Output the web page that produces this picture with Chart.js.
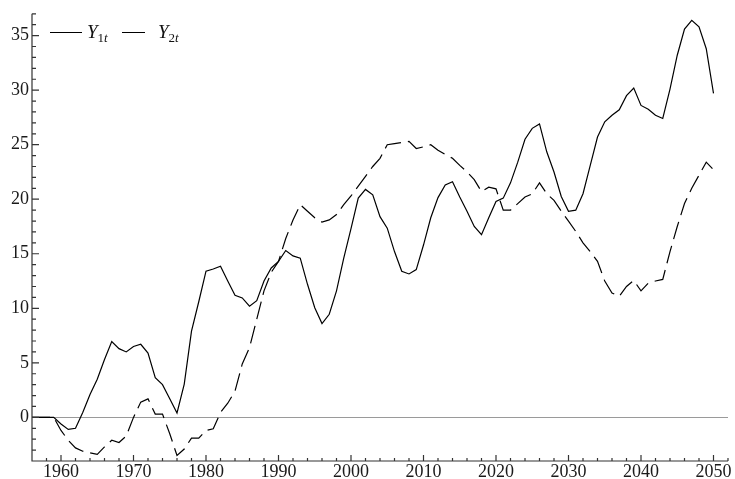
<!DOCTYPE html>
<html>
<head>
<meta charset="utf-8">
<script src="https://cdn.jsdelivr.net/npm/chart.js@4.4.1/dist/chart.umd.min.js"></script>
<style>
  html, body { margin: 0; padding: 0; background: #fff; }
  #wrap { position: relative; width: 735px; height: 479px; }
  .key-line { position: absolute; height: 0; border-top: 1.3px solid #000; }
  .key-text { position: absolute; font-family: 'Liberation Serif', serif; font-size: 19px; line-height: 19px; color: #111; white-space: nowrap; }
  .key-text sub { font-size: 13px; vertical-align: -4px; line-height: 0; }
</style>
</head>
<body>
<div id="wrap">
  <canvas id="grafik"></canvas>
  <div class="key-line" style="left:50px; top:32px; width:32px;"></div>
  <div class="key-text" style="left:87px; top:22px;"><i>Y</i><sub>1<i>t</i></sub></div>
  <div class="key-line" style="left:122px; top:32px; width:23px;"></div>
  <div class="key-text" style="left:158px; top:22px;"><i>Y</i><sub>2<i>t</i></sub></div>
</div>
<script>
const years = [];
for (let t = 1956; t <= 2050; t++) years.push(t);

const y1t = [
    0, 0, 0, 0, -0.6, -1.1, -1.0, 0.45, 2.1, 3.5,
    5.3, 6.95, 6.3, 6.0, 6.5, 6.7, 5.9, 3.65, 3.0, 1.7,
    0.4, 3.05, 7.9, 10.6, 13.4, 13.6, 13.85, 12.5, 11.2, 10.95,
    10.2, 10.7, 12.5, 13.7, 14.3, 15.3, 14.8, 14.6, 12.2, 10.05,
    8.6, 9.45, 11.6, 14.6, 17.3, 20.1, 20.9, 20.4, 18.4, 17.35,
    15.2, 13.4, 13.15, 13.55, 15.8, 18.3, 20.15, 21.3, 21.6, 20.2,
    18.9, 17.5, 16.75, 18.3, 19.8, 20.1, 21.5, 23.4, 25.5, 26.5,
    26.9, 24.35, 22.5, 20.25, 18.9, 19.0, 20.5, 23.1, 25.7, 27.1,
    27.7, 28.2, 29.5, 30.2, 28.6, 28.25, 27.7, 27.4, 30.1, 33.2,
    35.6, 36.4, 35.8, 33.8, 29.7
];

const y2t = [
    0, 0, 0, 0, -1.2, -2.1, -2.8, -3.1, -3.25, -3.4,
    -2.7, -2.1, -2.3, -1.7, 0.0, 1.4, 1.7, 0.3, 0.3, -1.5,
    -3.5, -2.9, -1.9, -1.9, -1.2, -1.05, 0.45, 1.3, 2.4, 4.9,
    6.4, 9.0, 11.6, 13.3, 14.3, 16.4, 18.1, 19.5, 18.9, 18.3,
    17.9, 18.1, 18.6, 19.5, 20.3, 21.2, 22.1, 23.0, 23.75, 25.0,
    25.1, 25.2, 25.3, 24.65, 24.8, 25.0, 24.5, 24.1, 23.75, 23.1,
    22.5, 21.8, 20.7, 21.1, 20.95, 19.0, 19.0, 19.6, 20.2, 20.5,
    21.5, 20.5, 19.9, 18.9, 18.0, 17.05, 16.0, 15.2, 14.3, 12.5,
    11.4, 11.1, 12.0, 12.55, 11.6, 12.3, 12.5, 12.65, 15.2, 17.5,
    19.6, 21.0, 22.2, 23.4, 22.7
];

const xMajor = 10, xMinor = 2;   // years
const yMajor = 5, yMinor = 1;

// frame + inward ticks + zero line, Mathematica style
const frameTicks = {
    id: 'frameTicks',
    beforeDatasetsDraw(chart) {
        const {ctx, chartArea: a, scales: {y}} = chart;
        const y0 = Math.round(y.getPixelForValue(0)) + 0.5;
        ctx.save();
        ctx.strokeStyle = '#9a9a9a';
        ctx.lineWidth = 1;
        ctx.beginPath();
        ctx.moveTo(a.left, y0);
        ctx.lineTo(a.right, y0);
        ctx.stroke();
        ctx.restore();
    },
    afterDraw(chart) {
        const {ctx, chartArea: a, scales: {x, y}} = chart;
        ctx.save();
        ctx.strokeStyle = '#333';
        ctx.lineWidth = 1.2;
        ctx.beginPath();
        ctx.moveTo(a.left, a.top);
        ctx.lineTo(a.left, a.bottom);
        ctx.lineTo(a.right, a.bottom);
        y.ticks.forEach(t => {
            const p = y.getPixelForValue(t.value);
            const len = t.value % yMajor === 0 ? 7 : 4;
            ctx.moveTo(a.left, p);
            ctx.lineTo(a.left + len, p);
        });
        x.ticks.forEach(t => {
            const p = x.getPixelForValue(t.value);
            const len = t.value % xMajor === 0 ? 6 : 3;
            ctx.moveTo(p, a.bottom);
            ctx.lineTo(p, a.bottom - len);
        });
        ctx.stroke();
        ctx.restore();
    }
};

Chart.defaults.font.family = "'Liberation Serif', 'Times New Roman', serif";
Chart.defaults.font.size = 18;
Chart.defaults.color = '#1a1a1a';

document.addEventListener('DOMContentLoaded', function() {
    const ctx = document.getElementById('grafik').getContext('2d');
    const data = {
        datasets: [
            {
                label: 'Y1t',
                data: years.map((t, i) => ({x: t, y: y1t[i]})),
                borderColor: '#000',
                borderWidth: 1.2,
                pointRadius: 0,
                tension: 0
            },
            {
                label: 'Y2t',
                data: years.map((t, i) => ({x: t, y: y2t[i]})),
                borderColor: '#000',
                borderWidth: 1.2,
                borderDash: [18, 7],
                pointRadius: 0,
                tension: 0
            }
        ]
    };
    const config = {
        type: 'line',
        data: data,
        options: {
            animation: false,
            maintainAspectRatio: false,
            responsive: true,
            layout: {padding: {top: 12, right: 7, left: 0, bottom: 0}},
            plugins: {
                legend: {display: false},
                tooltip: {enabled: false}
            },
            scales: {
                x: {
                    type: 'linear',
                    min: 1956,
                    max: 2052,
                    grid: {display: false, drawTicks: false},
                    border: {display: false},
                    ticks: {
                        stepSize: xMinor,
                        autoSkip: false,
                        maxRotation: 0,
                        padding: 0,
                        font: {family: "'Liberation Serif', serif", size: 18},
                        callback: v => v % xMajor === 0 ? String(v) : ''
                    },
                    afterFit: s => { s.height = 18; }
                },
                y: {
                    min: -4,
                    max: 37,
                    grid: {display: false, drawTicks: false},
                    border: {display: false},
                    ticks: {
                        stepSize: yMinor,
                        autoSkip: false,
                        padding: 3,
                        font: {family: "'Liberation Serif', serif", size: 18},
                        callback: v => v % yMajor === 0 ? String(v) : ''
                    },
                    afterFit: s => { s.width = 32; }
                }
            }
        },
        plugins: [frameTicks]
    };
    new Chart(ctx, config);
});
</script>
</body>
</html>
